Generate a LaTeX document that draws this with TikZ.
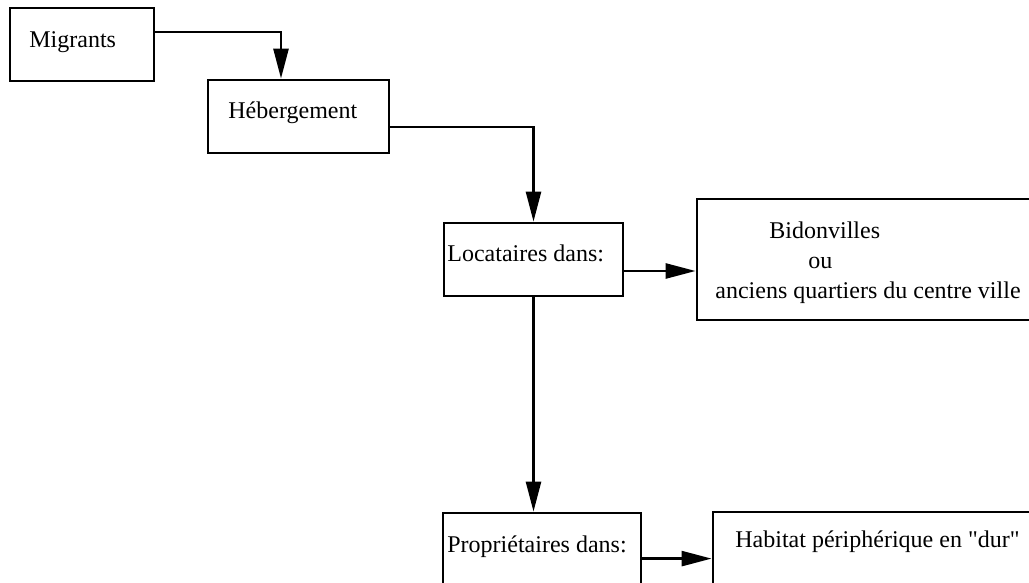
\documentclass[tikz,border=0pt]{standalone}
\usepackage{fontspec}
\setmainfont{Liberation Serif}
\usetikzlibrary{arrows.meta}
\begin{document}
\begin{tikzpicture}[x=0.5pt,y=-0.5pt,
    box/.style={draw, line width=1.4pt, inner sep=0pt},
    txt/.style={anchor=base west, inner sep=0pt, font=\fontsize{12}{15}\selectfont},
    arr/.style={line width=1.3pt, -{Triangle[length=15pt,width=7.5pt]}}]
    \useasboundingbox (0,0) rectangle (1029,583);
    \node[box, minimum width=72pt, minimum height=36.5pt] (mig) at (82,44.5) {};
    \node[box, minimum width=90.5pt, minimum height=36.5pt] (heb) at (298.5,116.5) {};
    \node[box, minimum width=89.5pt, minimum height=36.5pt] (loc) at (533.5,259.5) {};
    \node[box, minimum width=168.5pt, minimum height=60.5pt] (bid) at (865.5,259.5) {};
    \node[box, minimum width=99pt, minimum height=45pt] (prop) at (542,558) {};
    \node[box, minimum width=163.5pt, minimum height=45.5pt] (hab) at (876.5,557.5) {};
    \node[txt] (migtxt) at (29,48) {Migrants};
    \node[txt] (hebtxt) at (228,119) {Hébergement};
    \node[txt] (loctxt) at (447,262) {Locataires dans:};
    \node[txt] (bidtxt) at (769,238) {Bidonvilles};
    \node[txt] (outxt) at (808,268) {ou};
    \node[txt] (anctxt) at (715,299) {anciens quartiers du centre ville};
    \node[txt] (proptxt) at (447,552) {Propriétaires dans:};
    \node[txt] (habtxt) at (735,547) {Habitat périphérique en \textquotedbl dur\textquotedbl};
    \draw[arr] ([yshift=6.25pt]mig.east) -| ([xshift=-8.75pt]heb.north);
    \draw[arr] ([yshift=-5.25pt]heb.east) -| (loc.north);
    \coordinate (locout) at ([yshift=-5.75pt]loc.east);
    \draw[arr] (locout) -- (locout -| bid.west);
    \draw[arr] (loc.south) -- (loc.south |- prop.north);
    \coordinate (propout) at ([yshift=-23.5pt]prop.north east);
    \draw[arr] (propout) -- (propout -| hab.west);
\end{tikzpicture}
\end{document}
